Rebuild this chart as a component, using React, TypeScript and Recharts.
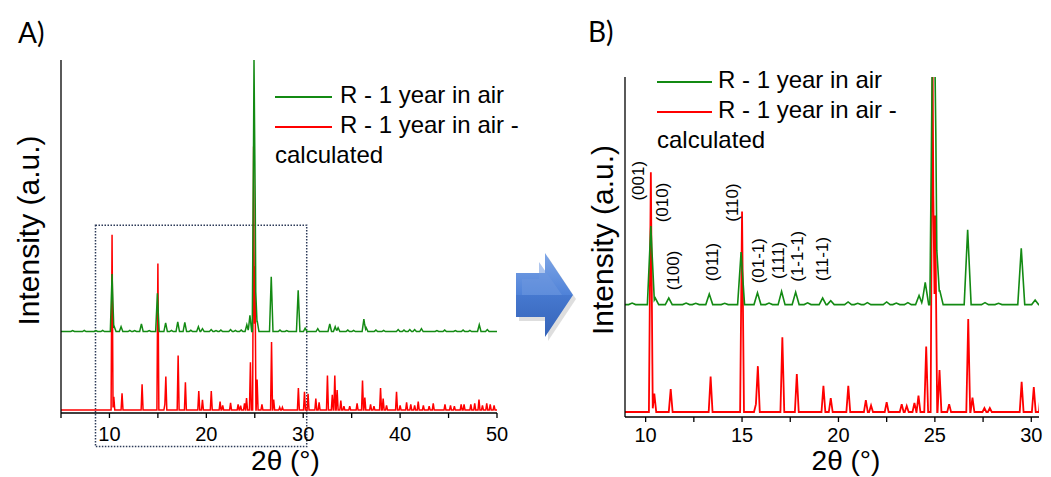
import React from "react";
import {
  LineChart,
  Line,
  XAxis,
  YAxis,
  Legend,
  ReferenceArea,
  ReferenceDot,
} from "recharts";

const FONT = '"Liberation Sans", Arial, sans-serif';
const GREEN = "#138a13";
const RED = "#ff0000";

const scanRange = [5, 50];

// calculated pattern: peak positions (°2θ) and heights (a.u.)
const calcPeakPos = [
  10.27, 10.45, 11.3, 13.37, 15.0, 15.72, 15.82, 17.09, 17.84, 19.22, 19.6, 20.51,
  21.42, 21.69, 22.5, 23.28, 23.54, 23.94, 24.15, 24.55, 24.88, 25.02, 25.24, 25.74,
  26.73, 26.95, 27.57, 27.85, 29.5, 30.13, 30.5, 31.3, 31.64, 32.5, 33.0, 33.26,
  33.5, 33.88, 34.2, 34.8, 35.56, 36.12, 36.36, 36.95, 37.3, 37.98, 38.25, 38.6,
  39.63, 40.0, 40.67, 41.1, 41.5, 41.87, 42.4, 43.0, 43.42, 44.63, 45.2, 45.6,
  46.3, 46.6, 47.3, 47.7, 48.14, 48.5, 48.94, 49.3, 49.7,
];
const calcPeakInt = [
  183, 14, 17.5, 27, 153, 6, 35, 57, 29, 20, 10.7, 20,
  9, 5, 7.6, 6, 4.6, 7, 12.5, 50, 275, 150, 32, 6,
  71, 11, 3, 3, 23, 19, 17, 12, 8, 36, 16, 36,
  21, 10, 4, 4, 7, 31, 13, 6, 4, 23, 12, 5,
  19, 5, 8, 6, 5, 9, 5, 4, 7, 6, 5, 4,
  6, 6, 6, 7, 11, 5, 7, 6, 5,
];

// measured pattern, R - 1 year in air
const obsPeakPos = [
  6.2, 7.4, 8.6, 9.3, 10.27, 10.5, 11.2, 12.1, 12.6, 13.3, 14.1, 14.95, 15.8, 16.4,
  17.05, 17.78, 18.4, 19.18, 19.6, 20.5, 21.0, 21.5, 22.5, 23.0, 23.6, 24.18, 24.5,
  24.92, 25.05, 25.25, 26.7, 27.6, 28.3, 29.48, 30.2, 31.5, 32.74, 33.3, 33.6,
  34.6, 35.2, 36.26, 36.5, 37.5, 38.3, 39.8, 40.4, 41.0, 41.5, 42.2, 43.8, 44.6,
  45.7, 46.5, 47.2, 48.17, 49.0,
];
const obsPeakInt = [
  1, 1.2, 1, 1.2, 60, 5, 5, 1.2, 1, 8, 1, 40, 9, 1.2,
  10, 9.5, 1.3, 5, 3, 2, 1, 1.5, 2, 1.2, 1.5, 7, 17,
  268, 55, 11, 57, 1.5, 1, 43, 3.5, 3, 8, 5, 4,
  1.5, 1.2, 13, 4, 1.5, 1.2, 2, 1.5, 2, 2, 3, 1, 1.5,
  1, 1.5, 1.2, 7, 2,
];

// stacking offsets of the two patterns
const calcOffset = 3;
const obsOffset = 85;

const ticksA = [5, 10, 15, 20, 25, 30, 35, 40, 45, 50];
const ticksB = [10, 12.5, 15, 17.5, 20, 22.5, 25, 27.5, 30];

const hklLabels = ["(001)", "(010)", "(100)", "(011)", "(110)", "(01-1)", "(111)", "(1-1-1)", "(11-1)"];
const hklPos = [9.62, 10.83, 11.43, 13.42, 14.46, 15.84, 16.88, 17.84, 19.13];
const hklY = [179.5, 162.9, 111.0, 117.5, 162.9, 118.5, 118.8, 121.9, 119.8];

// turn the peak list into a stick-like profile
function buildProfile(pos: number[], amp: number[], width: number, offset: number) {
  const xs = new Set<number>([scanRange[0], scanRange[1]]);
  pos.forEach((p) => {
    xs.add(p - width);
    xs.add(p);
    xs.add(p + width);
  });
  return [...xs]
    .filter((x) => x >= scanRange[0] && x <= scanRange[1])
    .sort((a, b) => a - b)
    .map((x) => ({
      x,
      y:
        offset +
        pos.reduce((s, p, i) => s + amp[i] * Math.max(0, 1 - Math.abs(x - p) / width), 0),
    }));
}

const calcData = buildProfile(calcPeakPos, calcPeakInt, 0.1, calcOffset);
const obsData = buildProfile(obsPeakPos, obsPeakInt, 0.18, obsOffset);

const legendContent = (lineW: number, gap: number) => (props: any) => {
  const items = [...(props.payload || [])].sort((a: any, b: any) =>
    String(a.value).length - String(b.value).length
  );
  return (
    <div style={{ fontFamily: FONT, fontSize: 24, lineHeight: "30px", color: "#000", textAlign: "left" }}>
      {items.map((e: any) => (
        <div key={e.value}>
          <span
            style={{
              display: "inline-block",
              width: lineW,
              height: 2,
              background: e.color,
              verticalAlign: "middle",
              marginRight: gap,
            }}
          />
          {e.value}
        </div>
      ))}
    </div>
  );
};

const axisProps = {
  stroke: "#000",
  strokeWidth: 1.3,
};

export default function App() {
  return (
    <div style={{ position: "absolute", left: 0, top: 0, width: 1051, height: 477, background: "#fff" }}>
      <div style={{ position: "absolute", left: 0, top: 0 }}>
        <LineChart width={520} height={477} margin={{ top: 60, right: 23, left: 0, bottom: 0 }}>
          <XAxis
            dataKey="x"
            type="number"
            domain={[5, 50]}
            ticks={ticksA}
            interval={0}
            height={64}
            tickSize={5}
            tickMargin={9}
            tickFormatter={(v: number) => (v % 10 === 0 ? String(v) : "")}
            tick={{ fontSize: 20, fill: "#000", fontFamily: FONT }}
            axisLine={axisProps}
            tickLine={axisProps}
          />
          <YAxis type="number" domain={[0, 353]} width={61} tick={false} tickLine={false} axisLine={axisProps} />
          <Line data={calcData} dataKey="y" type="linear" stroke={RED} strokeWidth={1.5} dot={false} activeDot={false} isAnimationActive={false} name="R - 1 year in air - calculated" />
          <Line data={obsData} dataKey="y" type="linear" stroke={GREEN} strokeWidth={1.5} dot={false} activeDot={false} isAnimationActive={false} name="R - 1 year in air" />
          <ReferenceArea
            x1={8.56}
            x2={30.36}
            y1={-35}
            y2={196}
            ifOverflow="visible"
            fill="none"
            stroke="#2c3a58"
            strokeWidth={1.5}
            strokeDasharray="1.5 1.5"
          />
          <Legend
            layout="vertical"
            align="center"
            verticalAlign="middle"
            wrapperStyle={{ left: 275, top: 80, width: 262 }}
            content={legendContent(57, 8)}
          />
        </LineChart>
      </div>

      <div style={{ position: "absolute", left: 540, top: 0 }}>
        <LineChart width={511} height={477} margin={{ top: 77, right: 12, left: 0, bottom: 0 }}>
          <XAxis
            dataKey="x"
            type="number"
            domain={[8.93, 30.4]}
            allowDataOverflow
            ticks={ticksB}
            interval={0}
            height={60}
            tickSize={5}
            tickMargin={6}
            tickFormatter={(v: number) => (v % 5 === 0 ? String(v) : "")}
            tick={{ fontSize: 20, fill: "#000", fontFamily: FONT }}
            axisLine={axisProps}
            tickLine={axisProps}
          />
          <YAxis type="number" domain={[-0.8, 258.7]} allowDataOverflow width={85} tick={false} tickLine={false} axisLine={axisProps} />
          <Line data={calcData} dataKey="y" type="linear" stroke={RED} strokeWidth={1.8} dot={false} activeDot={false} isAnimationActive={false} name="R - 1 year in air - calculated" />
          <Line data={obsData} dataKey="y" type="linear" stroke={GREEN} strokeWidth={1.6} dot={false} activeDot={false} isAnimationActive={false} name="R - 1 year in air" />
          {hklLabels.map((t, i) => (
            <ReferenceDot
              key={t}
              x={hklPos[i]}
              y={hklY[i]}
              r={0}
              fill="none"
              stroke="none"
              ifOverflow="visible"
              label={{ value: t, angle: -90, position: "center", fontSize: 17, fill: "#000", fontFamily: FONT }}
            />
          ))}
          <Legend
            layout="vertical"
            align="center"
            verticalAlign="middle"
            wrapperStyle={{ left: 117, top: 65, width: 250 }}
            content={legendContent(55, 6)}
          />
        </LineChart>
      </div>

      <svg
        width={1051}
        height={477}
        style={{ position: "absolute", left: 0, top: 0, pointerEvents: "none" }}
      >
        <text x={18} y={43} fontSize={28} fontFamily="Lato, sans-serif">A)</text>
        <text x={588} y={42} fontSize={28} fontFamily="Lato, sans-serif">B)</text>
        <text x={285.5} y={470} fontSize={28} fontFamily={FONT} textAnchor="middle">2θ (°)</text>
        <text x={846} y={470} fontSize={28} fontFamily={FONT} textAnchor="middle">2θ (°)</text>
        <text
          x={28.5}
          y={230.5}
          fontSize={30}
          fontFamily={FONT}
          textAnchor="middle"
          dominantBaseline="central"
          transform="rotate(-90 28.5 230.5)"
        >
          Intensity (a.u.)
        </text>
        <text
          x={602}
          y={240}
          fontSize={30}
          fontFamily={FONT}
          textAnchor="middle"
          dominantBaseline="central"
          transform="rotate(-90 602 240)"
        >
          Intensity (a.u.)
        </text>
        <defs>
          <linearGradient id="arrowTop" x1="0" y1="0" x2="0" y2="1">
            <stop offset="0%" stopColor="#7fa6e6" />
            <stop offset="100%" stopColor="#4f82d8" />
          </linearGradient>
          <linearGradient id="arrowBottom" x1="0" y1="0" x2="0" y2="1">
            <stop offset="0%" stopColor="#4678cf" />
            <stop offset="100%" stopColor="#3563b8" />
          </linearGradient>
        </defs>
        <path d="M519,277 L548,277 L548,257 L576,299 L548,341 L548,321 L519,321 Z" fill="#c8c8c8" opacity={0.6} />
        <path d="M516,273 L545,273 L545,253 L573,295 L516,295 Z" fill="url(#arrowTop)" />
        <path d="M516,295 L573,295 L545,337 L545,317 L516,317 Z" fill="url(#arrowBottom)" />
        <path d="M522,279 L539,279 L539,262 L562,295 L522,295 Z" fill="#6d98df" opacity={0.55} />
      </svg>
    </div>
  );
}
